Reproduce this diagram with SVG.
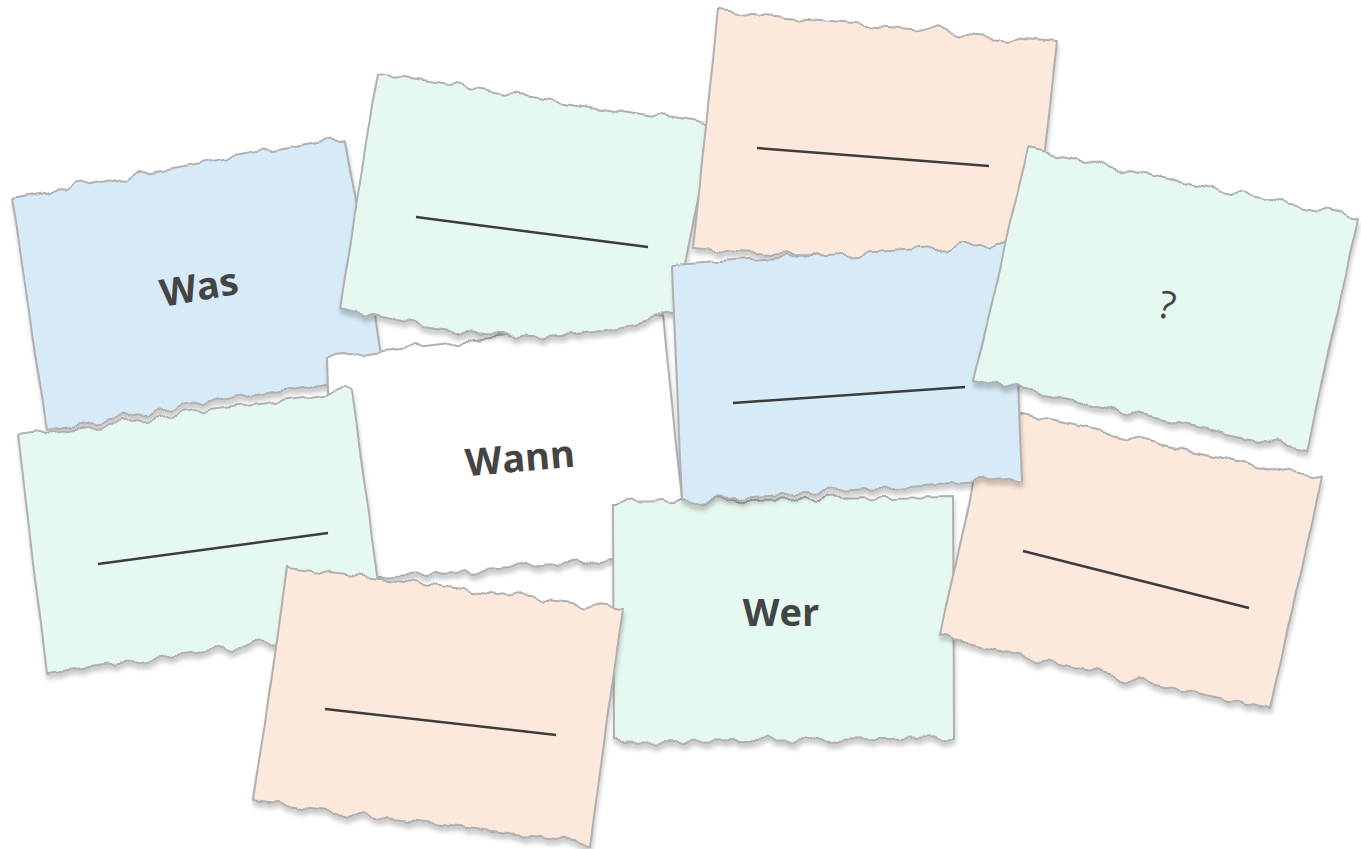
<svg xmlns="http://www.w3.org/2000/svg" width="1361" height="849" viewBox="0 0 1361 849">
  <defs>
    <filter id="torn" x="-0.06" y="-0.08" width="1.12" height="1.22" color-interpolation-filters="sRGB">
      <feTurbulence type="fractalNoise" baseFrequency="0.045 0.012" numOctaves="2" seed="7" result="noise"/>
      <feColorMatrix in="noise" type="matrix" values="0 0 0 0 0.5  0 1 0 0 0  0 0 0 0 0  0 0 0 0 1" result="map"/>
      <feDisplacementMap in="SourceGraphic" in2="map" scale="16" xChannelSelector="R" yChannelSelector="G" result="tornShape"/>
      <feColorMatrix in="tornShape" type="matrix" values="0 0 0 0 0  0 0 0 0 0  0 0 0 0 0  0 0 0 0.2 0" result="sh0"/>
      <feOffset in="sh0" dx="1" dy="5" result="sh1"/>
      <feGaussianBlur in="sh1" stdDeviation="2" result="sh"/>
      <feMerge>
        <feMergeNode in="sh"/>
        <feMergeNode in="tornShape"/>
      </feMerge>
    </filter>
  </defs>
  <style>
    .card { stroke: #b0b0b0; stroke-width: 2; stroke-linejoin: round; filter: url(#torn); }
    .blue { fill: #d6ebf7; }
    .green { fill: #e6f9f1; }
    .peach { fill: #fde9db; }
    .white { fill: #ffffff; }
    .rule { stroke: #3c3c3c; stroke-width: 2.5; fill: none; }
    .lbl { font-family: "Open Sans", "Noto Sans", "Liberation Sans", sans-serif; font-size: 38px; font-weight: 700; fill: #444444; text-anchor: middle; }
    .q { font-weight: 400; }
  </style>
  <rect x="0" y="0" width="1361" height="849" fill="#ffffff"/>

  <g id="card-was">
    <path class="card blue" d="M12,197 L345,137 L384,372 L47,430 Z"/>
    <text class="lbl" transform="translate(199,287) rotate(-10)" x="0" y="13.5">Was</text>
  </g>

  <g id="card-wann">
    <path class="card white" d="M327,358 Q495,338 663,317 L688,556 L335,580 Z"/>
    <text class="lbl" transform="translate(520,458) rotate(-5)" x="0" y="13.5">Wann</text>
  </g>

  <g id="card-green-top">
    <path class="card green" d="M378,73 L712,125 L676,310 Q552,363 340,308 Z"/>
    <line class="rule" x1="416" y1="217" x2="648" y2="247"/>
  </g>

  <g id="card-peach-top">
    <path class="card peach" d="M718,12 L1057,42 L1035,242 Q864,266 693,248 Z"/>
    <line class="rule" x1="757" y1="148" x2="989" y2="166"/>
  </g>

  <g id="card-green-left">
    <path class="card green" d="M18,437 L352,390 L384,626 L47,673 Z"/>
    <line class="rule" x1="98" y1="564" x2="328" y2="533"/>
  </g>

  <g id="card-wer">
    <path class="card green" d="M613,502 L953,497 L954,738 L614,743 Z"/>
    <text class="lbl" x="781" y="625.5">Wer</text>
  </g>

  <g id="card-peach-right">
    <path class="card peach" d="M989,407 L1322,478 L1270,710 L940,638 Z"/>
    <line class="rule" x1="1023" y1="551" x2="1249" y2="608"/>
  </g>

  <g id="card-blue-mid">
    <path class="card blue" d="M672,265 L1012,243 L1022,478 L682,502 Z"/>
    <line class="rule" x1="733" y1="403" x2="965" y2="387"/>
  </g>

  <g id="card-question">
    <path class="card green" d="M1028,150 L1358,218 L1307,450 L973,380 Z"/>
    <text class="lbl q" transform="translate(1167,305) rotate(12)" x="0" y="13.5">?</text>
  </g>

  <g id="card-peach-bottom">
    <path class="card peach" d="M287,568 L623,608 L590,843 L253,802 Z"/>
    <line class="rule" x1="325" y1="709" x2="556" y2="735"/>
  </g>
</svg>
